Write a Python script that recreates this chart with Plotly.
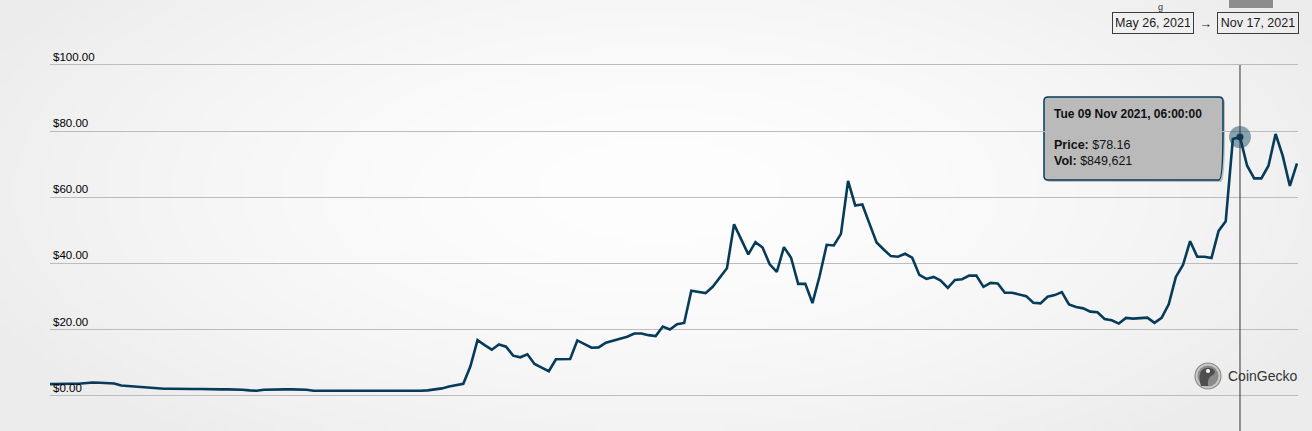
import base64, struct, zlib
import numpy as np
import pandas as pd
import plotly.graph_objects as go

# ---------------- data ----------------
start_date = "2021-05-26"
end_date = "2021-11-17"
prices = [
    3.5, 3.6, 3.7, 3.6, 3.6, 3.8, 4.0, 3.9, 3.8, 3.7,
    3.1, 2.9, 2.7, 2.5,
    2.3, 2.2, 2.1, 2.1, 2.0, 2.0, 2.0, 2.0, 1.9, 1.9, 1.9, 1.9, 1.9, 1.8,
    1.6, 1.5, 1.8, 1.9, 1.9, 1.9, 1.9, 1.9, 1.8, 1.5, 1.5, 1.4, 1.4, 1.4,
    1.5, 1.4, 1.4, 1.4, 1.4, 1.3, 1.3, 1.3, 1.4, 1.4, 1.5, 1.6,
    1.8, 2.2, 2.8, 3.2, 3.6, 8.9, 16.8, 15.3, 13.9, 15.5,
    14.8, 12.1, 11.6, 12.5, 9.6, 8.5, 7.4, 11.0, 11.1, 11.1,
    16.7, 15.7, 14.5, 14.6, 16.0, 16.6, 17.1, 17.8, 18.8, 18.8,
    18.3, 18.0, 20.9, 20.0, 21.6, 22.0, 31.7, 31.4, 31.0, 32.9,
    35.6, 38.5, 51.8, 47.3, 42.7, 46.4, 44.8, 39.7, 37.4, 44.9,
    41.7, 33.8, 33.8, 28.0, 36.1, 45.6, 45.4, 48.9, 64.9, 57.5,
    57.8, 52.0, 46.3, 44.2, 42.2, 42.0, 42.9, 41.7, 36.5, 35.3,
    35.9, 34.8, 32.6, 35.0, 35.2, 36.3, 36.3, 32.9, 34.1, 33.9,
    31.1, 31.1, 30.6, 30.1, 28.1, 27.9, 29.9, 30.4, 31.3, 27.6,
    26.8, 26.4, 25.4, 25.2, 23.2, 22.8, 21.8, 23.5, 23.3, 23.5,
    23.6, 22.0, 23.5, 27.6, 35.9, 39.5, 46.7, 42.0, 42.0, 41.6,
    49.8, 52.7, 77.6, 78.16, 69.5, 65.7, 65.7, 69.5, 79.1, 72.5,
    63.4, 70.2,
]
dates = pd.date_range(start_date, end_date, freq="D")
y_ticks = [0, 20, 40, 60, 80, 100]
y_tick_labels = ["$0.00", "$20.00", "$40.00", "$60.00", "$80.00", "$100.00"]
hover_index = 167
hover_title = "Tue 09 Nov 2021, 06:00:00"
hover_price = "$78.16"
hover_vol = "$849,621"
range_from = "May 26, 2021"
range_to = "Nov 17, 2021"

# ---------------- geometry helpers ----------------
W, H = 1312, 431
Y_LO, Y_HI = -1.0, 106.0
PX_PER_UNIT = 3.31
ML, MR = 50, 14
MT = round(65 - (Y_HI - 100) * PX_PER_UNIT)
MB = round(H - (396 - Y_LO * PX_PER_UNIT))
PW, PH = W - ML - MR, H - MT - MB


def px(x):
    return (x - ML) / PW


def py(y):
    return (H - MB - y) / PH


def path(points_px, close=True):
    s = ""
    for cmd, pts in points_px:
        s += cmd + " " + " ".join(f"{px(a):.5f},{py(b):.5f}" for a, b in pts) + " "
    return s + ("Z" if close else "")


# ---------------- background gradient (PNG data URI) ----------------
gw, gh = 328, 108
xx, yy = np.meshgrid(np.linspace(0, W, gw), np.linspace(0, H, gh))
r = np.sqrt(((xx - 660) / 760) ** 2 + ((yy - 190) / 330) ** 2)
r = np.clip(r, 0, 1)
val = 254 - (254 - 236) * r ** 1.6
img = np.repeat(val[:, :, None], 3, axis=2).astype(np.uint8)
raw = b"".join(b"\x00" + row.tobytes() for row in img)


def chunk(t, d):
    return struct.pack(">I", len(d)) + t + d + struct.pack(">I", zlib.crc32(t + d) & 0xFFFFFFFF)


png = (b"\x89PNG\r\n\x1a\n" + chunk(b"IHDR", struct.pack(">IIBBBBB", gw, gh, 8, 2, 0, 0, 0))
       + chunk(b"IDAT", zlib.compress(raw, 9)) + chunk(b"IEND", b""))
bg_uri = "data:image/png;base64," + base64.b64encode(png).decode()

NAVY = "#073b5a"
FONT = "Liberation Sans, Arial, sans-serif"

fig = go.Figure()
fig.add_trace(go.Scatter(x=dates, y=prices, mode="lines",
                         line=dict(color=NAVY, width=2.6), hoverinfo="skip"))
fig.add_trace(go.Scatter(x=[dates[hover_index]], y=[prices[hover_index]], mode="markers",
                         marker=dict(size=22, color="rgba(11,61,92,0.45)"), hoverinfo="skip"))
fig.add_trace(go.Scatter(x=[dates[hover_index]], y=[prices[hover_index]], mode="markers",
                         marker=dict(size=7, color=NAVY), hoverinfo="skip"))

shapes = []
# crosshair
shapes.append(dict(type="line", xref="x", yref="paper", x0=dates[hover_index], x1=dates[hover_index],
                   y0=py(H + 2), y1=py(65), line=dict(color="#333333", width=1), layer="above"))
# tooltip shadow + box with pointer
box = [("M", [(1048, 97)]), ("L", [(1219, 97)]), ("Q", [(1223, 97), (1223, 101)]),
       ("L", [(1223, 129), (1232, 137), (1223, 145), (1223, 176)]),
       ("Q", [(1223, 180), (1219, 180)]), ("L", [(1048, 180)]),
       ("Q", [(1044, 180), (1044, 176)]), ("L", [(1044, 101)]), ("Q", [(1044, 97), (1048, 97)])]
shadow = [(c, [(a + 2, b + 2) for a, b in p]) for c, p in box]
shapes.append(dict(type="path", xref="paper", yref="paper", path=path(shadow),
                   fillcolor="rgba(0,0,0,0.22)", line=dict(width=0), layer="between"))
shapes.append(dict(type="path", xref="paper", yref="paper", path=path(box),
                   fillcolor="#bababa", line=dict(color=NAVY, width=1.5), layer="between"))
# coingecko logo
shapes.append(dict(type="circle", xref="paper", yref="paper", x0=px(1195), x1=px(1221),
                   y0=py(389), y1=py(363), fillcolor="#c9c9c9", line=dict(color="#8e8e8e", width=1.2),
                   layer="above"))
shapes.append(dict(type="circle", xref="paper", yref="paper", x0=px(1197.5), x1=px(1218.5),
                   y0=py(386.5), y1=py(365.5), fillcolor="#8a8a8a", line=dict(width=0), layer="above"))
gecko = [("M", [(1201, 386)]), ("Q", [(1198, 378), (1201, 371)]), ("Q", [(1206, 366), (1213, 369)]),
         ("Q", [(1217, 372), (1213, 375)]), ("Q", [(1207, 377), (1208, 386)])]
shapes.append(dict(type="path", xref="paper", yref="paper", path=path(gecko),
                   fillcolor="#4f4f4f", line=dict(width=0), layer="above"))
shapes.append(dict(type="circle", xref="paper", yref="paper", x0=px(1206), x1=px(1210),
                   y0=py(373), y1=py(369), fillcolor="#ffffff", line=dict(width=0), layer="above"))
# partial button at top
shapes.append(dict(type="rect", xref="paper", yref="paper", x0=px(1229), x1=px(1273),
                   y0=py(8), y1=py(-2), fillcolor="#8c8c8c", line=dict(width=0), layer="above"))

annotations = []
annotations.append(dict(xref="paper", yref="paper", x=px(1052), y=py(114), xanchor="left", yanchor="middle",
                        text=f"<b>{hover_title}</b>", showarrow=False,
                        font=dict(family=FONT, size=12, color="#111111")))
annotations.append(dict(xref="paper", yref="paper", x=px(1052), y=py(145), xanchor="left", yanchor="middle",
                        text=f"<b>Price:</b> {hover_price}", showarrow=False,
                        font=dict(family=FONT, size=12.5, color="#111111")))
annotations.append(dict(xref="paper", yref="paper", x=px(1052), y=py(161), xanchor="left", yanchor="middle",
                        text=f"<b>Vol:</b> {hover_vol}", showarrow=False,
                        font=dict(family=FONT, size=12.5, color="#111111")))
for txt, cx in [(range_from, 1153), (range_to, 1258)]:
    annotations.append(dict(xref="paper", yref="paper", x=px(cx), y=py(23), xanchor="center", yanchor="middle",
                            text=txt, showarrow=False, bordercolor="#3c3c3c", borderwidth=1, borderpad=3,
                            width=74, font=dict(family=FONT, size=12.5, color="#1a1a1a")))
annotations.append(dict(xref="paper", yref="paper", x=px(1205), y=py(24), xanchor="center", yanchor="middle",
                        text="→", showarrow=False, font=dict(family=FONT, size=13, color="#222222")))
annotations.append(dict(xref="paper", yref="paper", x=px(1226), y=py(376), xanchor="left", yanchor="middle",
                        text="CoinGecko", showarrow=False,
                        font=dict(family=FONT, size=14, color="#333333")))
# small text fragment at the very top (kept fully visible)
annotations.append(dict(xref="paper", yref="paper", x=px(1160), y=py(0), xanchor="center", yanchor="top",
                        text="g", showarrow=False,
                        font=dict(family=FONT, size=9, color="#333333")))

fig.update_layout(
    width=W, height=H,
    margin=dict(l=ML, r=MR, t=MT, b=MB, pad=0),
    paper_bgcolor="#efefef", plot_bgcolor="rgba(0,0,0,0)",
    showlegend=False,
    hovermode=False,
    shapes=shapes, annotations=annotations,
    images=[dict(source=bg_uri, xref="paper", yref="paper", x=px(0), y=py(0),
                 sizex=W / PW, sizey=H / PH, sizing="stretch", xanchor="left", yanchor="top",
                 layer="below")],
    xaxis=dict(range=[dates[0], dates[-1] + pd.Timedelta(hours=3.4)], showgrid=False,
               showticklabels=False, zeroline=False, showline=False, ticks=""),
    yaxis=dict(range=[Y_LO, Y_HI], tickvals=y_ticks, ticktext=y_tick_labels,
               ticklabelposition="inside top", showgrid=True, gridcolor="#bcbcc0", gridwidth=1,
               zeroline=False, showline=False, ticks="",
               tickfont=dict(family=FONT, size=11.5, color="#000000")),
)

fig.write_html("out.html", config={"displayModeBar": False},
               post_script="document.body.style.margin='0';document.body.style.overflow='hidden';")
